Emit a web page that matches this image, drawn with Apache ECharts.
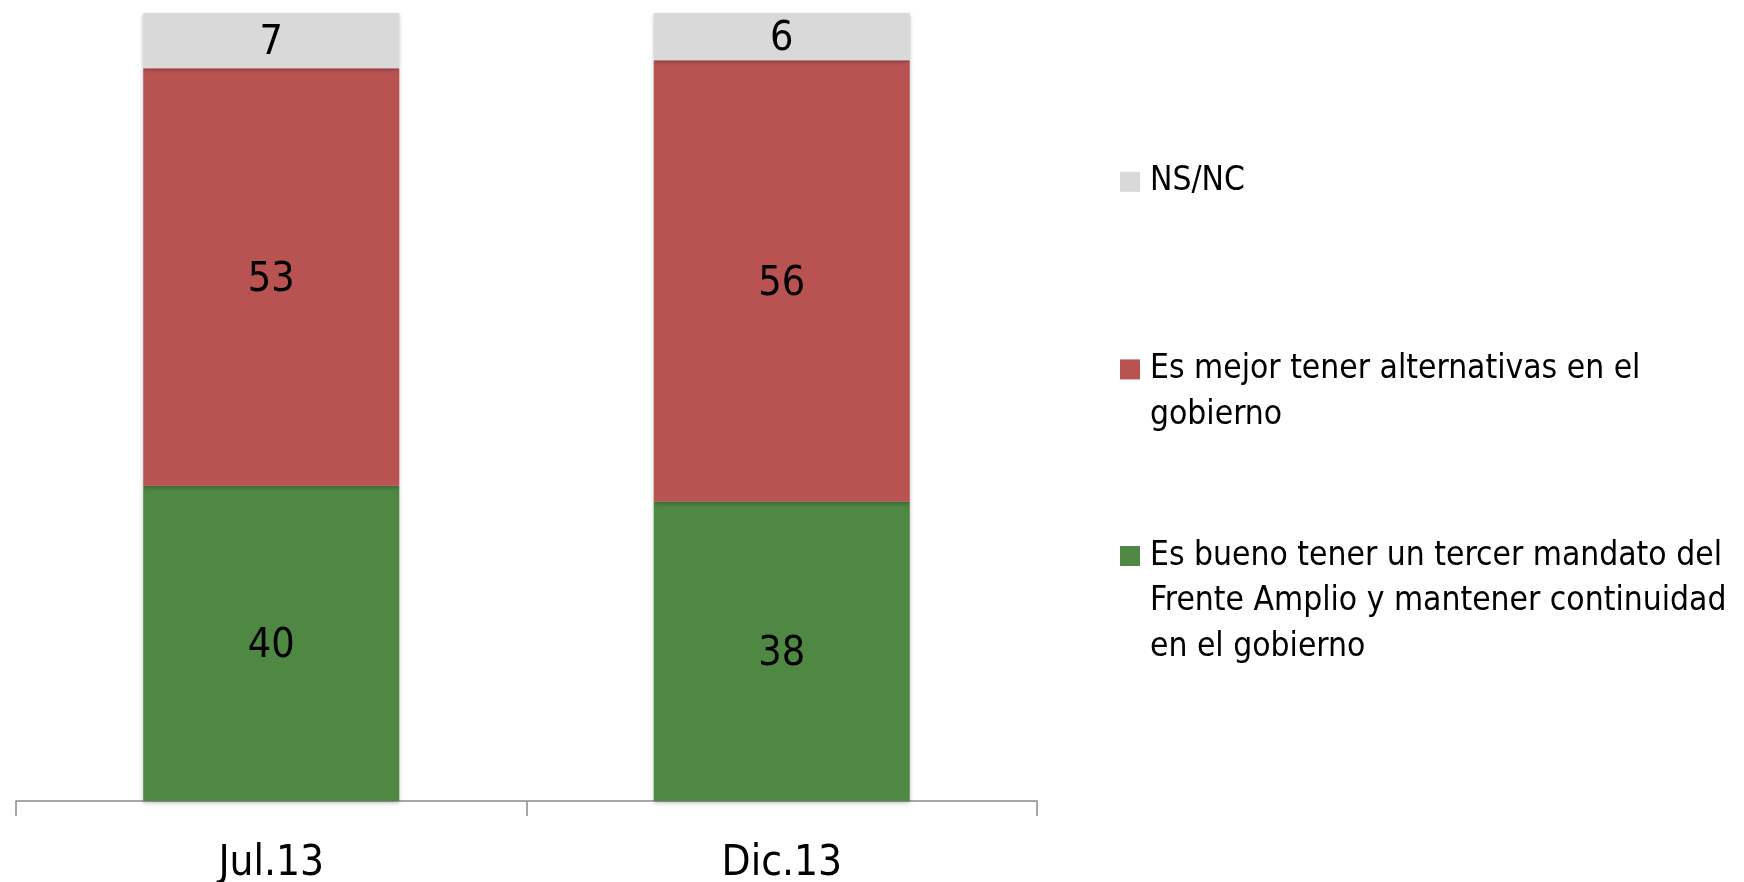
<!DOCTYPE html>
<html>
<head>
<meta charset="utf-8">
<script src="https://cdn.jsdelivr.net/npm/echarts@6/dist/echarts.min.js"></script>
<style>
html, body { margin: 0; padding: 0; background: #fff; }
#chart { width: 1744px; height: 882px; }
</style>
</head>
<body>
<div id="chart"></div>
<script>
// datos
let periods = ['Jul.13', 'Dic.13']
let nameBueno = 'Es bueno tener un tercer mandato del Frente Amplio y mantener continuidad en el gobierno'
let nameMejor = 'Es mejor tener alternativas en el gobierno'
let nameNsnc = 'NS/NC'
let bueno = [40, 38]
let mejor = [53, 56]
let nsnc = [7, 6]
// texto de la leyenda partido en lineas
let linesBueno = ['Es bueno tener un tercer mandato del', 'Frente Amplio y mantener continuidad', 'en el gobierno']
let linesMejor = ['Es mejor tener alternativas en el', 'gobierno']
let linesNsnc = ['NS/NC']

let fontStack = "'Liberation Sans Narrow', 'DejaVu Sans Condensed', 'Liberation Sans', sans-serif"
let legendLines = {}
legendLines[nameBueno] = linesBueno
legendLines[nameMejor] = linesMejor
legendLines[nameNsnc] = linesNsnc

// the icon sits on the middle of the text block, so pad with blank lines above
let legendText = (name) => {
  let lines = legendLines[name]
  let pad = []
  for (let i = 1; i < lines.length; i++) pad.push('')
  return pad.concat(lines).join('\n')
}

let lineH = 45.6
let legendItem = (name, firstLineY) => {
  let n = legendLines[name].length
  let blockH = (2 * n - 1) * lineH
  return {
    data: [name],
    orient: 'vertical',
    left: 1120,
    top: Math.round(firstLineY - blockH / 2),
    padding: 0,
    icon: 'rect',
    itemWidth: 20,
    itemHeight: 20,
    selectedMode: false,
    formatter: legendText,
    textStyle: {
      fontFamily: fontStack,
      fontSize: 33.3,
      lineHeight: lineH,
      color: '#000',
      padding: [0, 0, 0, 5]
    }
  }
}

let barShadow = {
  shadowColor: 'rgba(0,0,0,0.25)',
  shadowBlur: 4,
  shadowOffsetY: 2
}
let labelOpt = {
  show: true,
  position: 'inside',
  fontFamily: fontStack,
  fontSize: 41,
  color: '#000',
  offset: [0, 3]
}

let option = {
  animation: false,
  grid: {
    left: 16,
    right: 707,
    top: 13,
    bottom: 81,
    containLabel: false,
    outerBoundsMode: 'none'
  },
  legend: [
    legendItem(nameNsnc, 182),
    legendItem(nameMejor, 369),
    legendItem(nameBueno, 556)
  ],
  xAxis: {
    type: 'category',
    data: periods,
    axisLine: {
      lineStyle: {
        color: '#8c8c8c',
        width: 1.5
      }
    },
    axisTick: {
      show: true,
      length: 15,
      lineStyle: {
        color: '#8c8c8c',
        width: 1.5
      }
    },
    axisLabel: {
      fontFamily: fontStack,
      fontSize: 42,
      color: '#000',
      margin: 42
    }
  },
  yAxis: {
    type: 'value',
    min: 0,
    max: 100,
    show: false,
    splitLine: {
      show: false
    }
  },
  series: [{
    name: nameBueno,
    type: 'bar',
    stack: 'total',
    barWidth: 256,
    itemStyle: Object.assign({ color: '#4f8843' }, barShadow),
    label: labelOpt,
    data: bueno
  }, {
    name: nameMejor,
    type: 'bar',
    stack: 'total',
    barWidth: 256,
    itemStyle: Object.assign({ color: '#b95352' }, barShadow),
    label: labelOpt,
    data: mejor
  }, {
    name: nameNsnc,
    type: 'bar',
    stack: 'total',
    barWidth: 256,
    itemStyle: Object.assign({ color: '#d9d9d9' }, barShadow),
    label: labelOpt,
    data: nsnc
  }]
}

let myChart = echarts.init(document.getElementById('chart'))
myChart.setOption(option)
</script>
</body>
</html>
